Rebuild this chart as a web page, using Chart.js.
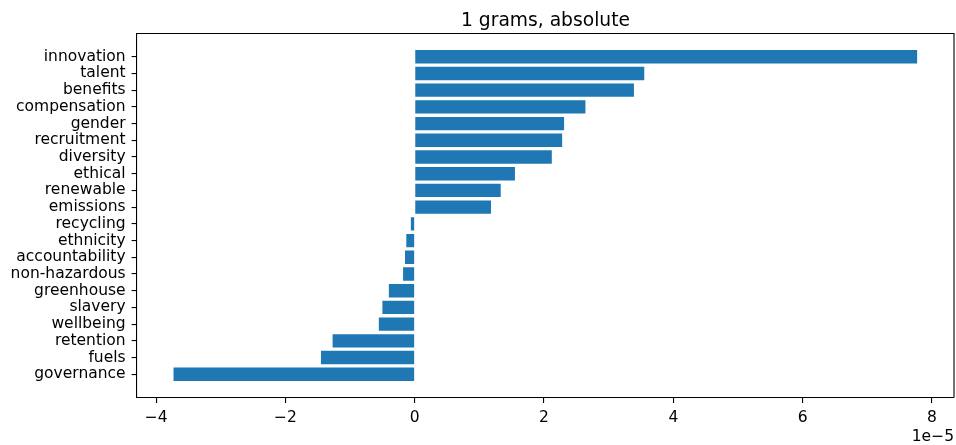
<!DOCTYPE html>
<html>
<head>
<meta charset="utf-8">
<script src="https://cdn.jsdelivr.net/npm/chart.js@4"></script>
<style>
  html, body { margin: 0; padding: 0; background: #fff; }
  #wrap { width: 956px; height: 445px; }
</style>
</head>
<body>
<div id="wrap"><canvas id="chart" width="956" height="445"></canvas></div>
<script>
// ---- Data (values in units of 1e-5) ----
const words = ['innovation', 'talent', 'benefits', 'compensation', 'gender', 'recruitment',
  'diversity', 'ethical', 'renewable', 'emissions', 'recycling', 'ethnicity', 'accountability',
  'non-hazardous', 'greenhouse', 'slavery', 'wellbeing', 'retention', 'fuels', 'governance'];
const scores = [7.77, 3.55, 3.39, 2.64, 2.31, 2.28, 2.12, 1.55, 1.33, 1.18,
  -0.06, -0.13, -0.15, -0.18, -0.40, -0.50, -0.555, -1.27, -1.45, -3.73];
const xTicks = [-4, -2, 0, 2, 4, 6, 8];
const chartTitle = '1 grams, absolute';
const offsetLabel = '1e\u22125';

const FONT = 'DejaVu Sans';
const TICK_SIZE = 15.5;

// matplotlib style 5% margins on both axes
const xMin = -4.295, xMax = 8.34;
const yMin = -1.39, yMax = words.length - 1 + 1.39;

const fmt = v => (v < 0 ? '\u2212' + Math.abs(v) : String(v));

// frame (top/right spines), title and offset text
const mplFrame = {
  id: 'mplFrame',
  afterDraw(chart) {
    const { ctx, chartArea: a } = chart;
    ctx.save();
    ctx.strokeStyle = '#000';
    ctx.lineWidth = 1.1;
    ctx.beginPath();
    ctx.moveTo(a.left, a.top);
    ctx.lineTo(a.right, a.top);
    ctx.lineTo(a.right, a.bottom);
    ctx.stroke();

    ctx.fillStyle = '#000';
    ctx.font = `18.7px "${FONT}"`;
    ctx.textAlign = 'center';
    ctx.textBaseline = 'alphabetic';
    ctx.fillText(chartTitle, (a.left + a.right) / 2, 25.5);

    ctx.font = `${TICK_SIZE}px "${FONT}"`;
    ctx.textAlign = 'right';
    ctx.textBaseline = 'middle';
    ctx.fillText(offsetLabel, a.right, 437);
    ctx.restore();
  }
};

const ctx = document.getElementById('chart');
new Chart(ctx.getContext('2d'), {
  type: 'bar',
  data: {
    datasets: [{
      data: scores.map((v, i) => ({ x: v, y: i })),
      backgroundColor: '#1f77b4',
      borderWidth: 0,
      barPercentage: 1,
      categoryPercentage: 0.8,
    }],
  },
  options: {
    indexAxis: 'y',
    responsive: false,
    animation: false,
    events: [],
    layout: { padding: { top: 33.5, right: 2, left: 0, bottom: 0 } },
    plugins: {
      legend: { display: false },
      tooltip: { enabled: false },
      title: { display: false },
    },
    scales: {
      x: {
        type: 'linear',
        min: xMin,
        max: xMax,
        afterBuildTicks: s => { s.ticks = xTicks.map(v => ({ value: v })); },
        afterFit: s => { s.height = 47.5; },
        ticks: {
          color: '#000',
          font: { family: FONT, size: TICK_SIZE },
          padding: 6,
          maxRotation: 0,
          autoSkip: false,
          callback: v => fmt(v),
        },
        grid: { drawOnChartArea: false, drawTicks: true, tickLength: 5.4, color: '#000', lineWidth: 1.1 },
        border: { display: true, color: '#000', width: 1.1 },
      },
      y: {
        type: 'linear',
        reverse: true,
        offset: false,
        min: yMin,
        max: yMax,
        afterBuildTicks: s => { s.ticks = words.map((_, i) => ({ value: i })); },
        afterFit: s => { s.width = 137; },
        ticks: {
          color: '#000',
          font: { family: FONT, size: TICK_SIZE },
          padding: 6,
          autoSkip: false,
          callback: v => words[v],
        },
        grid: { offset: false, drawOnChartArea: false, drawTicks: true, tickLength: 5.4, color: '#000', lineWidth: 1.1 },
        border: { display: true, color: '#000', width: 1.1 },
      },
    },
  },
  plugins: [mplFrame],
});
</script>
</body>
</html>
